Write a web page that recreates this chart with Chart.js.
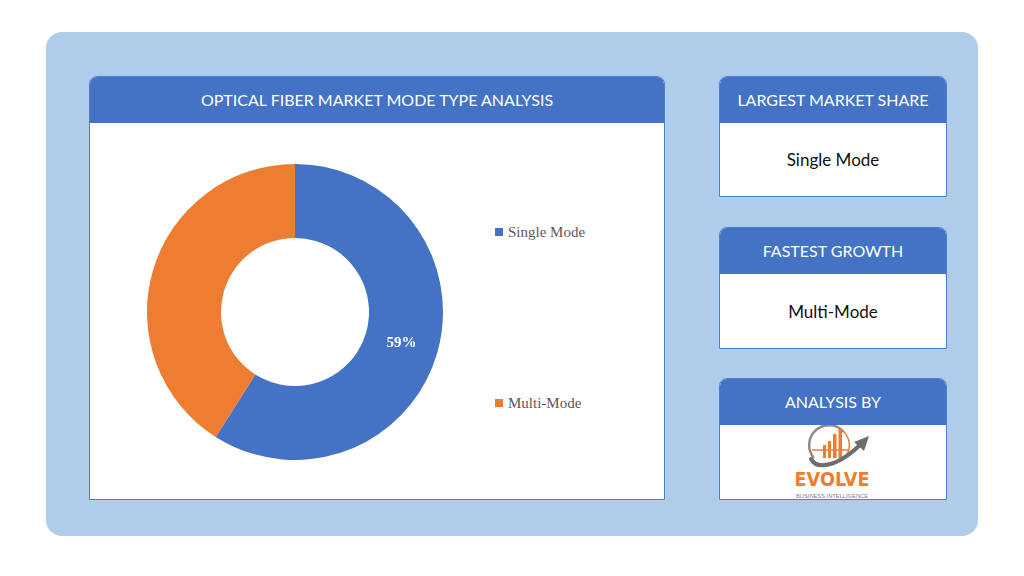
<!DOCTYPE html>
<html>
<head>
<meta charset="utf-8">
<script src="https://cdn.jsdelivr.net/npm/chart.js@4.4.1/dist/chart.umd.min.js"></script>
<style>
  body { margin: 0; background: #ffffff; width: 1024px; height: 576px; position: relative; overflow: hidden; }
  .panel { position: absolute; left: 46px; top: 32px; width: 932px; height: 504px; background: #aecdea; border-radius: 16px; }
  .card { position: absolute; background: #ffffff; border: 1px solid #4f7fcf; border-radius: 8px 8px 0 0; box-sizing: border-box; }
  .card .head { background: #4472c4; color: #ffffff; height: 46px; line-height: 46px; text-align: center;
    font-family: Lato, "Open Sans", sans-serif; font-size: 16px; border-radius: 7px 7px 0 0; }
  .card .body { text-align: center; font-family: Lato, "Open Sans", sans-serif; font-size: 17px; color: #111; }
  .legend { position: absolute; font-family: "Liberation Serif", "DejaVu Serif", serif; font-size: 15px; color: #595959; }
  .legend span.box { display: inline-block; width: 8px; height: 8px; margin-right: 5px; vertical-align: 1px; }
</style>
</head>
<body>
<div class="panel"></div>

<div class="card" style="left:89px; top:76px; width:576px; height:424px;">
  <div class="head">OPTICAL FIBER MARKET MODE TYPE ANALYSIS</div>
</div>
<canvas id="modeChart" width="300" height="300" style="position:absolute; left:145px; top:162px; width:300px; height:300px;"></canvas>
<div id="legend"></div>

<div class="card" style="left:719px; top:76px; width:228px; height:121px;">
  <div class="head">LARGEST MARKET SHARE</div>
  <div class="body" style="line-height:74px;">Single Mode</div>
</div>
<div class="card" style="left:719px; top:227px; width:228px; height:122px;">
  <div class="head">FASTEST GROWTH</div>
  <div class="body" style="line-height:76px;">Multi-Mode</div>
</div>
<div class="card" style="left:719px; top:378px; width:228px; height:122px;">
  <div class="head">ANALYSIS BY</div>
  <svg width="226" height="75" style="display:block;">
    <!-- globe outline -->
    <path d="M 94 33 A 19 19 0 0 1 124 7" fill="none" stroke="#8c8c8c" stroke-width="2.5"/>
    <path d="M 124 7 A 19 19 0 0 1 126 31" fill="none" stroke="#ed7d31" stroke-width="1.5"/>
    <line x1="92" y1="25" x2="128" y2="25" stroke="#ed7d31" stroke-width="1.5"/>
    <!-- bars -->
    <rect x="103" y="20" width="3" height="13" fill="#ed7d31"/>
    <rect x="108" y="16" width="3" height="17" fill="#ed7d31"/>
    <rect x="113" y="9" width="3.5" height="24" fill="#ed7d31"/>
    <rect x="118.5" y="3" width="3.5" height="30" fill="#ed7d31"/>
    <!-- swoosh arrow -->
    <path d="M 91 34 Q 96 44 114 38 Q 128 32 141 19" fill="none" stroke="#6e6e6e" stroke-width="4" stroke-linecap="round"/>
    <polygon points="134,17 149,11 144,26" fill="#6e6e6e"/>
    <text x="112" y="61" text-anchor="middle" font-family="'DejaVu Sans', sans-serif" font-weight="bold" font-size="20" fill="#ed7d31" textLength="75" lengthAdjust="spacingAndGlyphs">EVOLVE</text>
    <text x="112" y="72.5" text-anchor="middle" font-family="'Liberation Sans', sans-serif" font-size="6" fill="#7f7f7f" textLength="72" lengthAdjust="spacingAndGlyphs">BUSINESS INTELLIGENCE</text>
  </svg>
</div>

<script>
  // Chart data
  const modeLabels = ['Single Mode', 'Multi-Mode'];
  const modeShares = [59, 41];
  const modeColors = ['#4472c4', '#ed7d31'];
  const shownLabels = [true, false];

  // Legend (HTML, placed beside donut)
  const legendTops = [224, 395];
  const legendDiv = document.getElementById('legend');
  modeLabels.forEach((name, i) => {
    let item = document.createElement('div');
    item.className = 'legend';
    item.style.left = '495px';
    item.style.top = legendTops[i] + 'px';
    item.innerHTML = `<span class="box" style="background:${modeColors[i]}"></span>${name}`;
    legendDiv.appendChild(item);
  });

  // Percentage label on the slice centre
  const sliceLabels = {
    id: 'sliceLabels',
    afterDatasetsDraw(chart) {
      const ctx = chart.ctx;
      chart.getDatasetMeta(0).data.forEach((arc, i) => {
        if (!shownLabels[i]) return;
        const pos = arc.tooltipPosition();
        ctx.save();
        ctx.fillStyle = '#ffffff';
        ctx.font = 'bold 15px "Liberation Serif", "DejaVu Serif", serif';
        ctx.textAlign = 'center';
        ctx.textBaseline = 'middle';
        ctx.fillText(modeShares[i] + '%', pos.x, pos.y);
        ctx.restore();
      });
    }
  };

  new Chart(document.getElementById('modeChart').getContext('2d'), {
    type: 'doughnut',
    data: {
      labels: modeLabels,
      datasets: [{
        data: modeShares,
        backgroundColor: modeColors,
        borderWidth: 0
      }]
    },
    options: {
      responsive: false,
      animation: false,
      cutout: '50%',
      layout: { padding: 2 },
      plugins: {
        legend: { display: false },
        tooltip: { enabled: false }
      }
    },
    plugins: [sliceLabels]
  });
</script>
</body>
</html>
